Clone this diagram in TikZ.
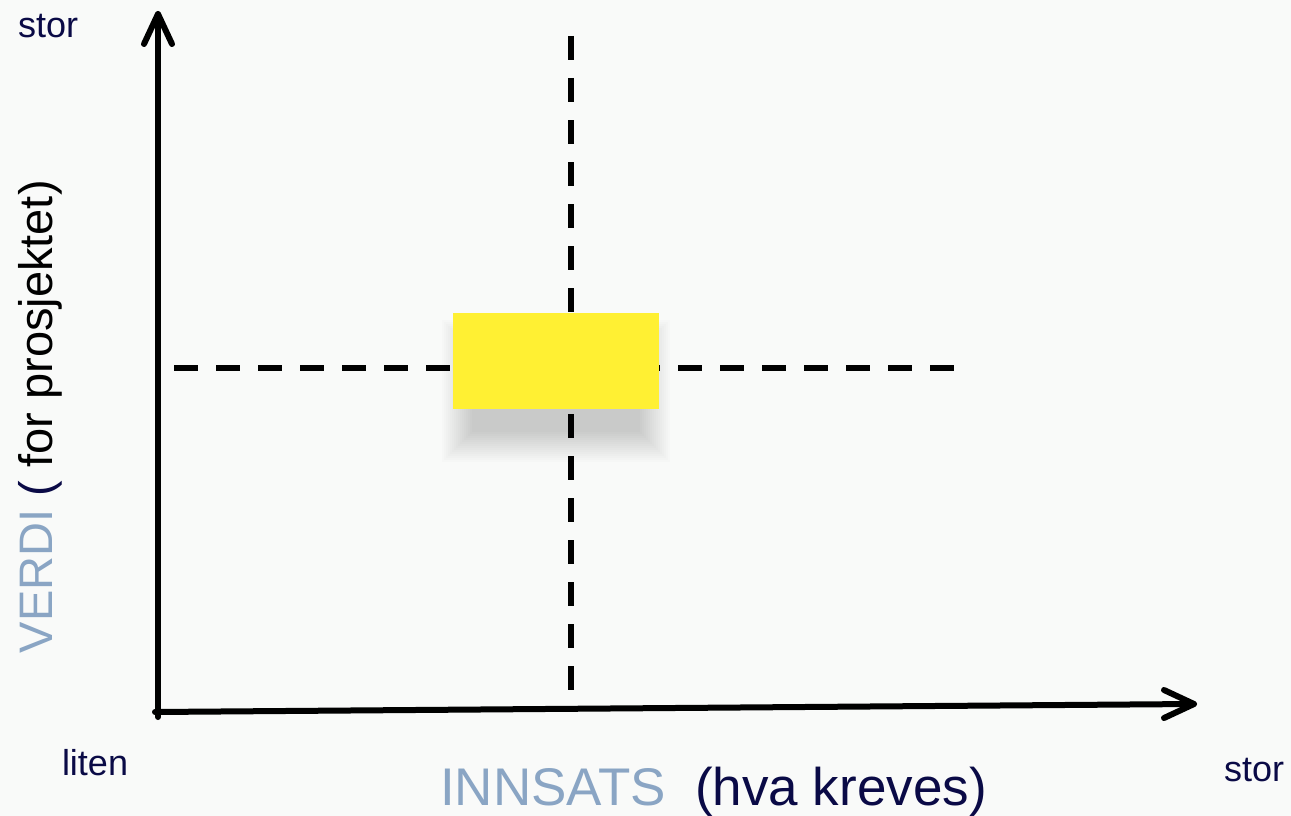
\documentclass[tikz,border=0pt]{standalone}
\usepackage{fontspec}
\setmainfont{Liberation Sans}
\usetikzlibrary{calc}
\definecolor{bgc}{HTML}{F9FAF9}
\definecolor{navy}{HTML}{0A0A46}
\definecolor{steel}{HTML}{8AA5C4}
\definecolor{stickyyellow}{HTML}{FFF033}
\tikzset{
  axisline/.style={line width=6pt, line cap=round, line join=round, black},
  dashline/.style={line width=5.5pt, black, dash pattern=on 24pt off 18pt},
  lbl/.style={inner sep=0pt, outer sep=0pt, font=\fontsize{36}{40}\selectfont, text=navy},
}
\begin{document}
\begin{tikzpicture}[x=1pt,y=-1pt]
\fill[bgc] (0,0) rectangle (1291,816);
\useasboundingbox (0,0) rectangle (1291,816);

% coordinates
\coordinate (origin) at (158,713);
\coordinate (vtip) at (158,14);
\coordinate (htip) at (1194,704);
\coordinate (vdTop) at (571,36);
\coordinate (vdBot) at (571,690);
\coordinate (hdL) at (174,368);
\coordinate (hdR) at (956,368);

% shadow of sticky note
\foreach \d in {0,2,...,30}{
  \fill[black, opacity=0.012] (472-\d,350-\d) rectangle (640+\d,432+\d);
}

% dashed guides
\draw[dashline] (vdTop) -- (vdBot);
\draw[dashline] (hdL) -- (hdR);

% sticky note
\node[fill=stickyyellow, minimum width=206pt, minimum height=96pt, inner sep=0pt, anchor=north west] (note) at (453,313) {};

% axes
\draw[axisline] (origin |- 0,717) -- (vtip);
\draw[axisline] ($(vtip)+(-14,30)$) -- (vtip) -- ($(vtip)+(14,30)$);
\draw[axisline] (155,712) -- (htip);
\draw[axisline] ($(htip)+(-30,-14)$) -- (htip) -- ($(htip)+(-30,14)$);

% labels
\node[lbl, anchor=base west] (storTop) at (18,38) {stor};
\node[lbl, anchor=base west] (liten) at (62,775) {liten};
\node[lbl, anchor=base west] (storRight) at (1224,781) {stor};
\node[lbl, anchor=base west, font=\fontsize{53}{60}\selectfont] (xlabel) at (440,805)
  {\textcolor{steel}{INNSATS}\ \ (hva kreves)};
\node[lbl, anchor=base west, rotate=90, font=\fontsize{47}{55}\selectfont] (ylabel) at (52,653)
  {\textcolor{steel}{VERDI} \textcolor{navy}{(} \textcolor{black}{for prosjektet)}};
\end{tikzpicture}
\end{document}
